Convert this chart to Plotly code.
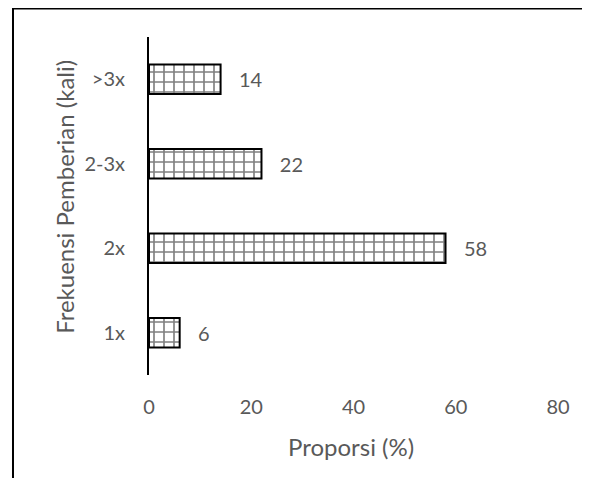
import plotly.graph_objects as go

categories = ["1x", "2x", "2-3x", ">3x"]
values = [6, 58, 22, 14]
x_ticks = [0, 20, 40, 60, 80]
x_title = "Proporsi (%)"
y_title = "Frekuensi Pemberian (kali)"

gray = "#595959"
font_family = "Lato, Open Sans, sans-serif"
fs = 20
fs_title = 24

# page body has an 8px margin; size the figure so it fits the 590x486 window
W, H = 574, 470
L, R, T, B = 141, 15, 29, 103
pw, ph = W - L - R, H - T - B

fig = go.Figure()
fig.add_trace(go.Bar(
    y=categories,
    x=values,
    orientation="h",
    marker=dict(
        color="white",
        line=dict(color="black", width=2),
        pattern=dict(shape="+", fgcolor="black", bgcolor="white", size=10, solidity=0.3),
    ),
    text=[str(v) for v in values],
    texttemplate="   %{text}",
    textposition="outside",
    textfont=dict(color=gray, size=fs, family=font_family),
    cliponaxis=False,
    showlegend=False,
))

fig.update_layout(
    width=W,
    height=H,
    paper_bgcolor="white",
    plot_bgcolor="white",
    margin=dict(l=L, r=R, t=T, b=B),
    bargap=0.65,
    font=dict(family=font_family, color=gray, size=fs),
    xaxis=dict(
        range=[0, 80],
        tickvals=x_ticks,
        showgrid=False,
        zeroline=False,
        showline=False,
        ticks="",
        ticklabelstandoff=18,
        tickfont=dict(size=fs, color=gray),
    ),
    yaxis=dict(
        categoryorder="array",
        categoryarray=categories,
        showgrid=False,
        zeroline=False,
        showline=True,
        linecolor="black",
        linewidth=2,
        ticks="",
        ticklabelstandoff=18,
        tickfont=dict(size=fs, color=gray),
    ),
    annotations=[
        dict(text=x_title, xref="paper", yref="paper",
             x=(355 - 8 - L) / pw, y=1 - (446 - 8 - T) / ph,
             xanchor="center", yanchor="middle", showarrow=False,
             font=dict(size=fs_title, color=gray, family=font_family)),
        dict(text=y_title, xref="paper", yref="paper", textangle=-90,
             x=(62 - 8 - L) / pw, y=1 - (197 - 8 - T) / ph,
             xanchor="center", yanchor="middle", showarrow=False,
             font=dict(size=fs_title, color=gray, family=font_family)),
    ],
    shapes=[dict(
        type="rect", xref="paper", yref="paper",
        x0=(2 - L) / pw, x1=1.3, y0=-0.6, y1=1 + (T - 0.5) / ph,
        line=dict(color="black", width=2), fillcolor="rgba(0,0,0,0)", layer="below",
    )],
)

fig.write_html("out.html")
